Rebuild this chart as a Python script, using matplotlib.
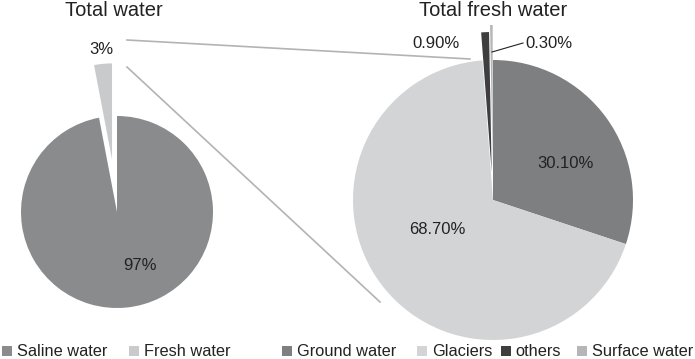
import matplotlib.pyplot as plt

plt.rcParams["font.family"] = ["Liberation Sans", "DejaVu Sans"]

# left pie: total water
TOTAL_LABELS = ["Saline water", "Fresh water"]
TOTAL_VALUES = [97, 3]
TOTAL_PCT = ["97%", "3%"]
TOTAL_COLORS = ["#8a8b8d", "#c9cacb"]

# right pie: total fresh water
FRESH_LABELS = ["Ground water", "Glaciers", "others", "Surface water"]
FRESH_VALUES = [30.1, 68.7, 0.9, 0.3]
FRESH_PCT = ["30.10%", "68.70%", "0.90%", "0.30%"]
FRESH_COLORS = ["#7e7f81", "#d3d4d5", "#3e3e3e", "#b5b6b7"]

W, H = 695, 359


def py(y):
    # pixel row (from top) -> data y
    return H - y


def main():
    fig = plt.figure(figsize=(W / 100, H / 100), dpi=100)
    ax = fig.add_axes([0, 0, 1, 1])

    # explode is in data units here, so scale by the radius
    r_left, r_right = 96, 140
    wl, _ = ax.pie(TOTAL_VALUES, colors=TOTAL_COLORS, startangle=90,
                   counterclock=False, explode=[0, 0.55 * r_left],
                   center=(117, py(212)), radius=r_left,
                   wedgeprops=dict(linewidth=0))
    wr, _ = ax.pie(FRESH_VALUES, colors=FRESH_COLORS, startangle=90,
                   counterclock=False,
                   explode=[0, 0, 0.2 * r_right, 0.25 * r_right],
                   center=(493, py(200)), radius=r_right,
                   wedgeprops=dict(linewidth=0))

    ax.set_xlim(0, W)
    ax.set_ylim(0, H)
    ax.set_aspect("equal", adjustable="box")
    ax.axis("off")

    # connector lines between the pies
    ax.plot([127, 470], [py(40), py(59)], color="#b3b3b3", lw=1.2)
    ax.plot([127, 380], [py(67), py(302)], color="#b3b3b3", lw=1.2)
    # leader line for surface water
    ax.plot([492, 523], [py(52), py(43)], color="#222222", lw=0.8)

    txt = dict(fontsize=12, color="#222222", ha="center", va="center")
    ax.text(140, py(265), TOTAL_PCT[0], **txt)
    ax.text(101, py(50), TOTAL_PCT[1], **txt)
    ax.text(565, py(164), FRESH_PCT[0], **txt)
    ax.text(437, py(230), FRESH_PCT[1], **txt)
    ax.text(436, py(43), FRESH_PCT[2], **txt)
    ax.text(549, py(43), FRESH_PCT[3], **txt)

    ax.text(114, py(10), "Total water", fontsize=14.5, color="#222222",
            ha="center", va="center")
    ax.text(493, py(10), "Total fresh water", fontsize=14.5, color="#222222",
            ha="center", va="center")

    # one legend entry per item, placed where the reference has them
    handles = list(wl) + list(wr)
    labels = TOTAL_LABELS + FRESH_LABELS
    xs = [2, 129, 282, 417, 501, 577]
    for h, lab, x in zip(handles, labels, xs):
        fig.legend([h], [lab], frameon=False, fontsize=11.8, loc="center left",
                   borderaxespad=0, borderpad=0, handlelength=0.6,
                   handleheight=0.6, handletextpad=0.3,
                   labelcolor="#222222",
                   bbox_to_anchor=(x / W, 1 - 352 / H))

    fig.savefig("out.png", dpi=100)


if __name__ == "__main__":
    main()
